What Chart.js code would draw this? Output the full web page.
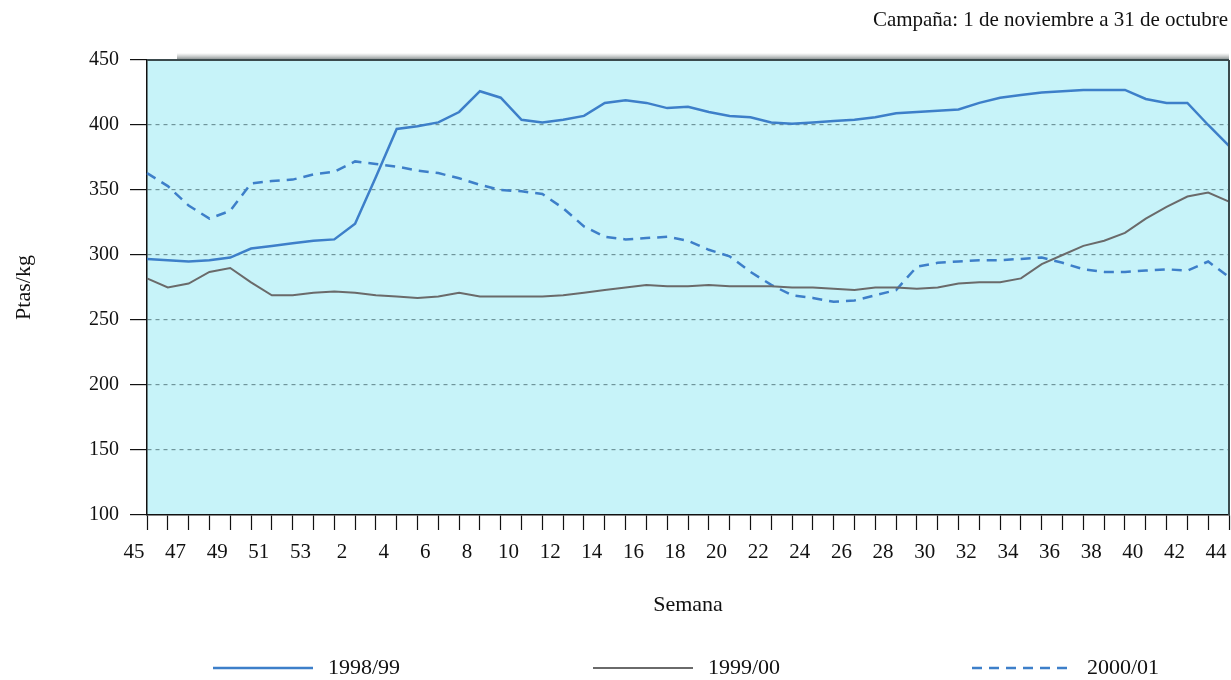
<!DOCTYPE html>
<html>
<head>
<meta charset="utf-8">
<title>Ptas/kg por semana</title>
<script src="https://cdn.jsdelivr.net/npm/chart.js@4.4.1/dist/chart.umd.min.js"></script>
<style>
  html, body { margin: 0; padding: 0; background: #fff; }
</style>
</head>
<body>
<canvas id="chart" width="1231" height="680"></canvas>
<script>
// DATA
const weeks = [45, 46, 47, 48, 49, 50, 51, 52, 53,
  1, 2, 3, 4, 5, 6, 7, 8, 9, 10, 11, 12, 13, 14, 15, 16, 17, 18, 19, 20, 21, 22,
  23, 24, 25, 26, 27, 28, 29, 30, 31, 32, 33, 34, 35, 36, 37, 38, 39, 40, 41, 42, 43, 44];

const s1998 = [297, 296, 295, 296, 298, 305, 307, 309, 311,
  312, 324, 360, 397, 399, 402, 410, 426, 421, 404, 402, 404, 407, 417,
  419, 417, 413, 414, 410, 407, 406, 402, 401, 402, 403, 404, 406, 409,
  410, 411, 412, 417, 421, 423, 425, 426, 427, 427, 427, 420, 417, 417, 400, 384];

const s1999 = [282, 275, 278, 287, 290, 279, 269, 269, 271,
  272, 271, 269, 268, 267, 268, 271, 268, 268, 268, 268, 269, 271, 273,
  275, 277, 276, 276, 277, 276, 276, 276, 275, 275, 274, 273, 275, 275,
  274, 275, 278, 279, 279, 282, 293, 300, 307, 311, 317, 328, 337, 345, 348, 341];

const s2000 = [363, 353, 338, 328, 334, 355, 357, 358, 362,
  364, 372, 370, 368, 365, 363, 359, 354, 350, 349, 347, 336, 322, 314,
  312, 313, 314, 311, 304, 299, 287, 277, 269, 267, 264, 265, 269, 273,
  291, 294, 295, 296, 296, 297, 298, 294, 289, 287, 287, 288, 289, 288, 295, 283];

const seriesNames = ["1998/99", "1999/00", "2000/01"];
const yMin = 100, yMax = 450, yStep = 50;

const BLUE = "#3d7fc9";
const GREY = "#6a6a6a";
const SERIF = "'Liberation Serif', 'DejaVu Serif', serif";

// background, frame, texts and legend
const decor = {
  id: "decor",
  beforeDraw(chart) {
    const { ctx, chartArea: a } = chart;
    ctx.save();
    ctx.fillStyle = "#fff";
    ctx.fillRect(0, 0, chart.width, chart.height);
    ctx.fillStyle = "#c7f3f9";
    ctx.fillRect(a.left, a.top, a.right - a.left, a.bottom - a.top);
    ctx.restore();
  },
  afterDraw(chart) {
    const { ctx, chartArea: a } = chart;
    ctx.save();
    // shaded top edge
    const g = ctx.createLinearGradient(0, a.top - 7, 0, a.top);
    g.addColorStop(0, "rgba(150,155,155,0)");
    g.addColorStop(1, "rgba(110,120,120,0.9)");
    ctx.fillStyle = g;
    ctx.fillRect(a.left + 30, a.top - 7, a.right - a.left - 30, 7);
    ctx.strokeStyle = "#3b4a4d";
    ctx.lineWidth = 2;
    ctx.beginPath();
    ctx.moveTo(a.left, a.top);
    ctx.lineTo(a.right, a.top);
    ctx.moveTo(a.right, a.top);
    ctx.lineTo(a.right, a.bottom);
    ctx.stroke();

    ctx.fillStyle = "#111";
    ctx.font = "21px " + SERIF;
    ctx.textAlign = "right";
    ctx.textBaseline = "middle";
    ctx.fillText("Campaña: 1 de noviembre a 31 de octubre", 1228, 20);

    ctx.font = "22px " + SERIF;
    ctx.textAlign = "center";
    ctx.fillText("Semana", (a.left + a.right) / 2, 605);

    ctx.save();
    ctx.translate(24, (a.top + a.bottom) / 2);
    ctx.rotate(-Math.PI / 2);
    ctx.fillText("Ptas/kg", 0, 0);
    ctx.restore();

    // legend
    const starts = [213, 593, 972];
    chart.data.datasets.forEach((ds, i) => {
      const x = starts[i];
      ctx.strokeStyle = ds.borderColor;
      ctx.lineWidth = ds.borderWidth;
      ctx.setLineDash(ds.borderDash || []);
      ctx.beginPath();
      ctx.moveTo(x, 668);
      ctx.lineTo(x + 100, 668);
      ctx.stroke();
      ctx.setLineDash([]);
      ctx.fillStyle = "#111";
      ctx.textAlign = "left";
      ctx.fillText(ds.label, x + 115, 668);
    });
    ctx.restore();
  }
};

const ctx = document.getElementById("chart");

new Chart(ctx, {
  type: "line",
  data: {
    labels: weeks,
    datasets: [
      { label: seriesNames[0], data: s1998, borderColor: BLUE, borderWidth: 2.5 },
      { label: seriesNames[1], data: s1999, borderColor: GREY, borderWidth: 2 },
      { label: seriesNames[2], data: s2000, borderColor: BLUE, borderWidth: 2.5, borderDash: [10, 7] }
    ]
  },
  options: {
    responsive: false,
    animation: false,
    devicePixelRatio: 1,
    layout: { padding: { top: 60, right: 2, left: 0, bottom: 0 } },
    elements: { point: { radius: 0 }, line: { tension: 0 } },
    plugins: { legend: { display: false }, tooltip: { enabled: false } },
    scales: {
      x: {
        offset: false,
        grid: { drawOnChartArea: false, drawTicks: true, tickLength: 15, tickColor: "#111", tickWidth: 1.2 },
        border: { color: "#111", width: 1.5 },
        ticks: {
          autoSkip: false,
          maxRotation: 0,
          padding: 10,
          labelOffset: -13,
          color: "#111",
          font: { family: SERIF, size: 21 },
          callback: function (v, i) { return i % 2 === 0 ? String(weeks[i]) : ""; }
        },
        afterFit(scale) {
          scale.height = 165;
          scale.paddingLeft = 0;
          scale.paddingRight = 0;
        }
      },
      y: {
        min: yMin,
        max: yMax,
        grid: {
          color: (c) => (c.tick && (c.tick.value === yMin || c.tick.value === yMax)) ? "rgba(0,0,0,0)" : "#6f959b",
          lineWidth: 1.2,
          tickLength: 17,
          tickColor: "#111",
          tickWidth: 1.2
        },
        border: { color: "#111", width: 1.5, dash: [4, 4] },
        ticks: {
          stepSize: yStep,
          padding: 11,
          color: "#111",
          font: { family: SERIF, size: 20 }
        },
        afterFit(scale) { scale.width = 147; }
      }
    }
  },
  plugins: [decor]
});
</script>
</body>
</html>
